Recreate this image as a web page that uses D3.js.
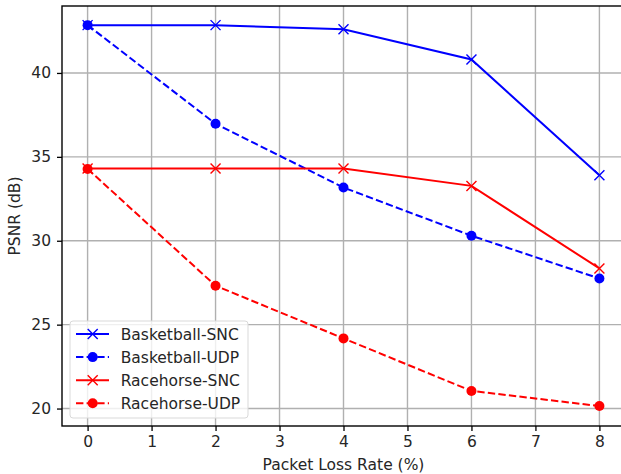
<!DOCTYPE html>
<html>
<head>
<meta charset="utf-8">
<script src="https://cdn.jsdelivr.net/npm/d3@7"></script>
<style>
  html, body { margin: 0; padding: 0; background: #fff; }
  svg { display: block; font-family: "DejaVu Sans", sans-serif; }
</style>
</head>
<body>
<svg id="chart" width="621" height="474"></svg>
<script>
// data
const lossRates = [0, 2, 4, 6, 8];
const basketballSNC = [42.85, 42.85, 42.6, 40.8, 33.9];
const basketballUDP = [42.85, 36.97, 33.17, 30.3, 27.75];
const racehorseSNC = [34.3, 34.3, 34.3, 33.27, 28.35];
const racehorseUDP = [34.28, 27.32, 24.18, 21.05, 20.15];
const xTicks = [0, 1, 2, 3, 4, 5, 6, 7, 8];
const yTicks = [20, 25, 30, 35, 40];

const series = [
  { name: "Basketball-SNC", values: basketballSNC, color: "#0000ff", dashed: false, marker: "x" },
  { name: "Basketball-UDP", values: basketballUDP, color: "#0000ff", dashed: true, marker: "o" },
  { name: "Racehorse-SNC", values: racehorseSNC, color: "#ff0000", dashed: false, marker: "x" },
  { name: "Racehorse-UDP", values: racehorseUDP, color: "#ff0000", dashed: true, marker: "o" }
];

const width = 621, height = 474;
const margin = { left: 62, right: -4, top: 6, bottom: 48 };
const fontSize = "15.5px";
const svg = d3.select("#chart");

const x = d3.scaleLinear().domain([-0.4, 8.4]).range([margin.left, width - margin.right]);
const y = d3.scaleLinear().domain([18.96, 43.99]).range([height - margin.bottom, margin.top]);

const grid = svg.append("g");
// grid lines
grid.selectAll("line.gx").data(xTicks).join("line").attr("class", "gx")
  .attr("x1", d => x(d)).attr("x2", d => x(d))
  .attr("y1", y.range()[1]).attr("y2", y.range()[0])
  .attr("stroke", "#b0b0b0").attr("stroke-width", 1.4);
grid.selectAll("line.gy").data(yTicks).join("line").attr("class", "gy")
  .attr("y1", d => y(d)).attr("y2", d => y(d))
  .attr("x1", x.range()[0]).attr("x2", x.range()[1])
  .attr("stroke", "#b0b0b0").attr("stroke-width", 1.4);

// axes
const axisX = d3.axisBottom(x).tickValues(xTicks).tickSize(5).tickPadding(5).tickSizeOuter(0);
const axisY = d3.axisLeft(y).tickValues(yTicks).tickSize(5).tickPadding(6).tickSizeOuter(0);
const gx = svg.append("g").attr("transform", `translate(0,${y.range()[0]})`).call(axisX);
const gy = svg.append("g").attr("transform", `translate(${x.range()[0]},0)`).call(axisY);
[gx, gy].forEach(g => {
  g.select(".domain").remove();
  g.selectAll(".tick line").attr("stroke", "#000").attr("stroke-width", 1.3);
  g.selectAll(".tick text").attr("fill", "#262626").style("font-size", fontSize).style("font-family", "DejaVu Sans");
});

// lines
const line = d3.line().x((d, i) => x(lossRates[i])).y(d => y(d));
const plot = svg.append("g");
series.forEach(s => {
  plot.append("path").datum(s.values)
    .attr("d", line).attr("fill", "none")
    .attr("stroke", s.color).attr("stroke-width", 2)
    .attr("stroke-dasharray", s.dashed ? "7.4,3.2" : null);
  drawMarkers(plot, s, s.values.map((v, i) => [x(lossRates[i]), y(v)]));
});

function drawMarkers(g, s, pts) {
  if (s.marker === "o") {
    g.selectAll(null).data(pts).join("circle")
      .attr("cx", d => d[0]).attr("cy", d => d[1]).attr("r", 5)
      .attr("fill", s.color);
  } else {
    const r = 5;
    g.selectAll(null).data(pts).join("path")
      .attr("d", d => `M${d[0] - r},${d[1] - r}L${d[0] + r},${d[1] + r}M${d[0] - r},${d[1] + r}L${d[0] + r},${d[1] - r}`)
      .attr("stroke", s.color).attr("stroke-width", 1.4).attr("fill", "none");
  }
}

// spines
svg.append("rect")
  .attr("x", x.range()[0]).attr("y", y.range()[1])
  .attr("width", x.range()[1] - x.range()[0]).attr("height", y.range()[0] - y.range()[1])
  .attr("fill", "none").attr("stroke", "#000").attr("stroke-width", 1.4);

// axis labels
svg.append("text").attr("x", (x.range()[0] + x.range()[1]) / 2).attr("y", 470)
  .attr("text-anchor", "middle").attr("fill", "#262626").style("font-size", fontSize)
  .text("Packet Loss Rate (%)");
svg.append("text").attr("transform", `translate(20,${(y.range()[0] + y.range()[1]) / 2}) rotate(-90)`)
  .attr("text-anchor", "middle").attr("fill", "#262626").style("font-size", fontSize)
  .text("PSNR (dB)");

// legend
const legend = svg.append("g").attr("transform", "translate(70,321)");
legend.append("rect").attr("width", 178).attr("height", 97).attr("rx", 3)
  .attr("fill", "rgba(255,255,255,0.8)").attr("stroke", "#d9d9d9").attr("stroke-width", 1);
series.forEach((s, i) => {
  const row = legend.append("g").attr("transform", `translate(0,${13 + i * 23.1})`);
  row.append("line").attr("x1", 6).attr("x2", 39).attr("y1", 0).attr("y2", 0)
    .attr("stroke", s.color).attr("stroke-width", 2)
    .attr("stroke-dasharray", s.dashed ? "7.4,3.2" : null);
  drawMarkers(row, s, [[22.7, 0]]);
  row.append("text").attr("x", 50.7).attr("y", 5.5).attr("fill", "#262626")
    .style("font-size", fontSize).text(s.name);
});
</script>
</body>
</html>
